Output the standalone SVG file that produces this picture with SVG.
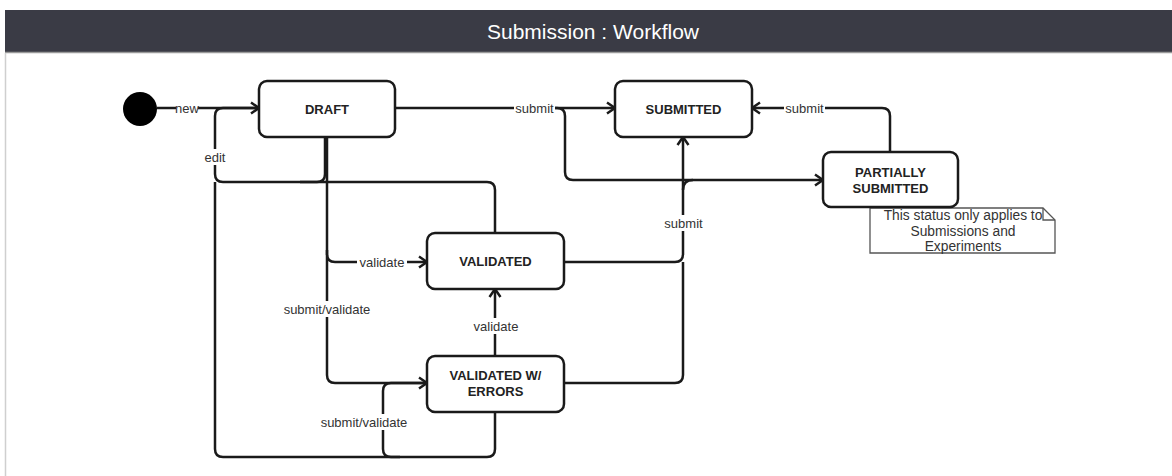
<svg xmlns="http://www.w3.org/2000/svg" width="1172" height="476" viewBox="0 0 1172 476">
<defs>
<marker id="arr" markerUnits="userSpaceOnUse" markerWidth="14" markerHeight="14" refX="11" refY="7" orient="auto">
<path d="M3,1.5 L11,7 L3,12.5" fill="none" stroke="#1a1a1a" stroke-width="2.5" stroke-linejoin="miter"/>
</marker>
</defs>
<style>
.node rect{fill:#fff;stroke:#1a1a1a;stroke-width:2.5}
.nt{font-family:"Liberation Sans",Arial,sans-serif;font-size:13px;font-weight:bold;fill:#222;text-anchor:middle}
.e{fill:none;stroke:#1a1a1a;stroke-width:2.5}
.lbg{fill:#fff}
.lt{font-family:"Liberation Sans",Arial,sans-serif;font-size:13px;fill:#333;text-anchor:middle;dominant-baseline:central}
</style>
<rect x="0" y="0" width="1172" height="476" fill="#fff"/>
<rect x="5" y="10" width="1167" height="42" fill="#3a3b45"/>
<line x1="5" y1="52.5" x2="1172" y2="52.5" stroke="#9a9a9a" stroke-width="1.5"/>
<line x1="5.5" y1="53" x2="5.5" y2="476" stroke="#cfcfcf" stroke-width="1.5"/>
<text x="593" y="39" font-family="Liberation Sans,Arial,sans-serif" font-size="21" fill="#fff" text-anchor="middle">Submission : Workflow</text>

<g id="connectors">
<path class="e" d="M157,108 H259" marker-end="url(#arr)"/>
<path class="e" d="M495,233 V190 Q495,182 487,182 H223 Q215,182 215,174 V116 Q215,108 223,108 H259"/>
<path class="e" d="M495,412 V449 Q495,457 487,457 H223 Q215,457 215,449 V182"/>
<path class="e" d="M325,137 V174 Q325,182 317,182 H300"/>
<path class="e" d="M327,137 V254 Q327,262 335,262 H427" marker-end="url(#arr)"/>
<path class="e" d="M327,250 V375 Q327,383 335,383 H427" marker-end="url(#arr)"/>
<path class="e" d="M400,457 H391 Q383,457 383,449 V391 Q383,383 391,383 H427"/>
<path class="e" d="M495,356 V289" marker-end="url(#arr)"/>
<path class="e" d="M395,108 H615" marker-end="url(#arr)"/>
<path class="e" d="M550,108 H557 Q565,108 565,116 V172 Q565,180 573,180 H823" marker-end="url(#arr)"/>
<path class="e" d="M564,262 H675 Q683,262 683,254 V137" marker-end="url(#arr)"/>
<path class="e" d="M564,383 H675 Q683,383 683,375 V262"/>
<path class="e" d="M683,190 Q683,180 693,180"/>
<path class="e" d="M890,152 V116 Q890,108 882,108 H752" marker-end="url(#arr)"/>
<g id="labels">
<rect class="lbg" x="176" y="100" width="22" height="16"/><text class="lt" x="187" y="108">new</text>
<rect class="lbg" x="203" y="149" width="24" height="16"/><text class="lt" x="215" y="157">edit</text>
<rect class="lbg" x="357" y="254" width="50" height="16"/><text class="lt" x="382" y="262">validate</text>
<rect class="lbg" x="281" y="301" width="92" height="16"/><text class="lt" x="327" y="309">submit/validate</text>
<rect class="lbg" x="318" y="414" width="92" height="16"/><text class="lt" x="364" y="422">submit/validate</text>
<rect class="lbg" x="471" y="318" width="50" height="16"/><text class="lt" x="496" y="326">validate</text>
<rect class="lbg" x="514" y="100" width="41" height="16"/><text class="lt" x="534.5" y="108">submit</text>
<rect class="lbg" x="663" y="215" width="41" height="16"/><text class="lt" x="683.5" y="223">submit</text>
<rect class="lbg" x="784" y="100" width="41" height="16"/><text class="lt" x="804.5" y="108">submit</text>
</g>
</g>

<g id="initial"><circle cx="140" cy="109" r="17" fill="#000"/></g>
<g id="draft" class="node"><rect x="259" y="81" width="136" height="56" rx="8"/><text class="nt" x="327" y="114">DRAFT</text></g>
<g id="submitted" class="node"><rect x="615" y="81" width="137" height="56" rx="8"/><text class="nt" x="683.5" y="114">SUBMITTED</text></g>
<g id="note">
<path d="M870,208 H1043 L1055,220 V253 H870 Z" fill="#fff" stroke="#555" stroke-width="1.3"/>
<path d="M1043,208 V220 H1055" fill="none" stroke="#555" stroke-width="1.3"/>
<text font-family="Liberation Sans,Arial,sans-serif" font-size="13.8" fill="#333" text-anchor="middle"><tspan x="963" y="220">This status only applies to</tspan><tspan x="963" y="236">Submissions and</tspan><tspan x="963" y="251">Experiments</tspan></text>
</g>
<g id="partially" class="node"><rect x="823" y="152" width="135" height="55" rx="8"/><text class="nt" x="890.5" y="177">PARTIALLY</text><text class="nt" x="890.5" y="193">SUBMITTED</text></g>
<g id="validated" class="node"><rect x="427" y="233" width="137" height="56" rx="8"/><text class="nt" x="495.5" y="266">VALIDATED</text></g>
<g id="vwe" class="node"><rect x="427" y="356" width="137" height="56" rx="8"/><text class="nt" x="495.5" y="380">VALIDATED W/</text><text class="nt" x="495.5" y="396">ERRORS</text></g>
</svg>
